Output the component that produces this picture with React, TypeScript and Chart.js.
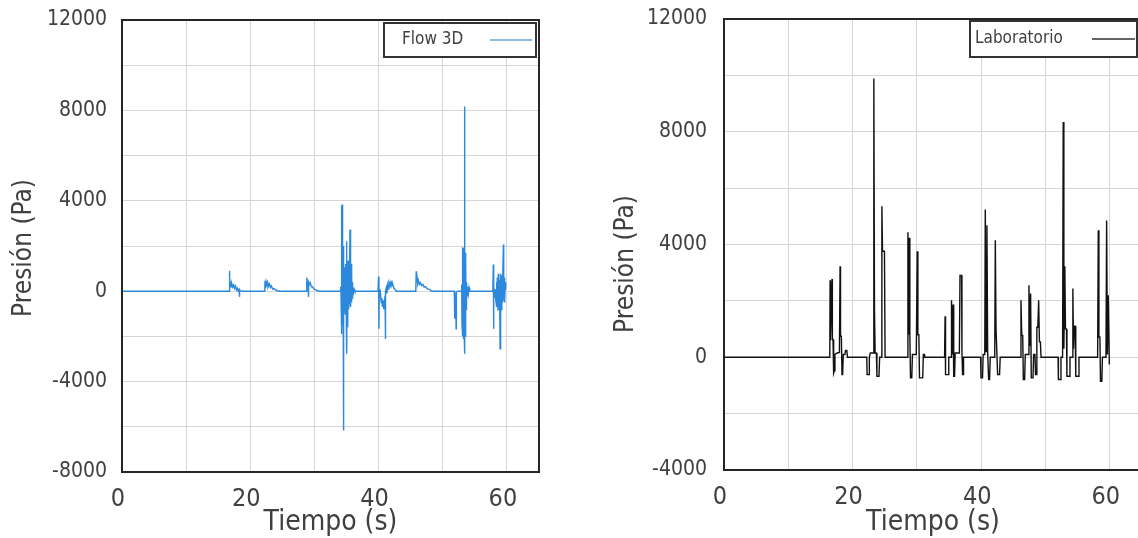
import React, { useEffect, useRef } from 'react';
import { Chart, registerables } from 'chart.js';

Chart.register(...registerables);

// ---------- data ----------
const flowTime = [
  0, 16.7, 16.75, 16.8, 16.9, 17.0, 17.1, 17.25, 17.4, 17.55, 17.7, 17.85, 18.0, 18.1, 18.25, 18.3, 18.35, 18.5, 18.65,
  22.25, 22.3, 22.35, 22.45, 22.6, 22.7, 22.85, 23.0, 23.15, 23.3, 23.5, 23.7, 24.0, 24.3, 24.6,
  28.75, 28.8, 28.85, 28.95, 29.0, 29.06, 29.1, 29.2, 29.35, 29.5, 29.7, 29.9, 30.2, 30.5, 30.85,
  34.05, 34.1, 34.15, 34.2, 34.22, 34.25, 34.28, 34.32, 34.35, 34.38, 34.42, 34.45, 34.5, 34.55, 34.58, 34.62, 34.66, 34.7, 34.74, 34.78,
  34.82, 34.86, 34.9, 34.94, 34.97, 35.0, 35.04, 35.07, 35.1, 35.14, 35.18, 35.22, 35.26, 35.3, 35.34, 35.38, 35.42, 35.46, 35.5, 35.54,
  35.57, 35.6, 35.63, 35.66, 35.69, 35.72, 35.75, 35.78, 35.81, 35.84, 35.87, 35.9, 35.95, 36.0, 36.1, 36.2, 36.3,
  39.9, 40.0, 40.05, 40.1, 40.2, 40.3, 40.4, 40.5, 40.6, 40.7, 40.8, 40.9, 41.0, 41.05, 41.1, 41.2, 41.3, 41.4, 41.5, 41.6, 41.7, 41.8, 41.9, 42.0, 42.1, 42.2, 42.35, 42.5, 42.75,
  45.8, 45.86, 45.9, 46.0, 46.1, 46.2, 46.35, 46.5, 46.7, 46.9, 47.1, 47.3, 47.6, 47.9, 48.2, 48.5,
  51.8, 51.85, 51.88, 51.92, 52.0, 52.05, 52.08, 52.12, 52.3, 52.9, 52.95, 53.0, 53.05, 53.1, 53.14, 53.18, 53.22, 53.26, 53.3, 53.34,
  53.38, 53.41, 53.45, 53.49, 53.53, 53.57, 53.6, 53.65, 53.7, 53.8, 53.9, 54.0, 54.1, 54.2,
  57.8, 57.88, 57.92, 57.96, 58.05, 58.15, 58.3, 58.35, 58.45, 58.5, 58.6, 58.65, 58.7, 58.75, 58.8, 58.85, 58.93, 58.97, 59.02, 59.07,
  59.12, 59.17, 59.22, 59.27, 59.32, 59.38, 59.45, 59.5, 59.55, 59.6, 59.65, 59.7, 59.75, 59.8, 59.87,
];
const flowPressure = [
  0, 0, 900, 150, 330, 200, 340, 180, 280, 120, 230, 60, 130, 20, 80, -250, 50, 30, 0,
  0, 457, 150, 420, 250, 400, 220, 320, 160, 230, 90, 120, 40, 20, 0,
  0, 600, 150, 450, 250, -250, 400, 300, 380, 200, 200, 100, 60, 20, 0,
  0, 200, -300, 1500, -1000, 3790, -1890, 3835, -1500, 3700, -1000, 2000, -1800, -6165, 470, -600, 1000, -900, 1060, -1000,
  900, -700, 1200, -400, 2210, -1200, 600, -2770, 800, -1500, 1300, -1590, 1360, -800, 1100, -700, 1360, -600, 1200, 2730,
  -700, 1300, -650, 1360, -700, 1200, -500, 1000, -400, 700, -300, 400, -150, 200, -50, 80, 0,
  0, 650, -1667, 100, -300, -150, -500, -300, -700, -400, -800, -500, -200, -2110, 0, 150, -100, 250, 100, 350, 250, 400, 300, 380, 250, 300, 150, 100, 0,
  0, 885, 400, 600, 350, 470, 300, 380, 250, 300, 180, 200, 100, 80, 20, 0,
  0, -200, -1224, -100, -300, -100, -1667, -50, 0, 0, 300, -1500, 1000, -2000, 1950, -1800, 1900, -2110, 1800, -1900,
  8170, -2770, 1950, -2000, 1700, -1600, 1200, -800, 400, -200, 200, -100, 150, 0,
  0, 1180, -1667, 200, -300, 100, -500, 400, -700, 600, -855, 770, -600, 700, -800, 500, -2550, 600, -700, 770,
  -600, 700, -855, 600, -500, 700, 2065, -400, 600, -500, 500, -300, 400, 100, 100,
];

const labTime = [
  0, 16.45, 16.5, 16.55, 16.8, 16.85, 16.95, 17.05, 17.15, 17.25, 17.6, 17.95, 18.05, 18.12, 18.25, 18.35, 18.45, 18.55, 18.8, 18.9, 19.1, 19.2,
  22.2, 22.25, 22.55, 22.6, 22.75, 23.2, 23.3, 23.4, 23.5, 23.7, 23.78, 24.1, 24.2, 24.5, 24.55, 24.65, 24.95, 25.05,
  28.5, 28.6, 28.7, 28.8, 28.9, 29.0, 29.2, 29.3, 29.9, 30.05, 30.15, 30.3, 30.4, 30.9, 31.0, 31.15, 31.2,
  34.3, 34.38, 34.45, 34.85, 34.95, 35.3, 35.38, 35.5, 35.62, 35.72, 35.85, 35.95, 36.6, 36.7, 36.95, 37.0, 37.1, 37.2, 37.25,
  39.9, 39.96, 40.2, 40.3, 40.55, 40.63, 40.75, 40.89, 41.0, 41.15, 41.3, 41.4, 42.1, 42.19, 42.3, 42.45, 42.55, 42.85, 42.95,
  46.1, 46.18, 46.3, 46.45, 46.55, 46.75, 46.85, 47.3, 47.42, 47.55, 47.68, 47.78, 48.05, 48.15, 48.35, 48.45, 48.6, 48.65, 48.8, 48.93, 49.05, 49.2, 49.3,
  51.95, 52.0, 52.3, 52.4, 52.65, 52.75, 52.85, 53.0, 53.1, 53.25, 53.33, 53.7, 53.8, 54.15, 54.25, 54.35, 54.45, 54.6, 54.7, 55.1, 55.2,
  58.1, 58.2, 58.3, 58.45, 58.55, 58.75, 58.85, 59.4, 59.5, 59.62, 59.75, 59.85, 59.92,
];
const labPressure = [
  0, 0, 2730, 600, 2780, 630, 630, -560, -480, 100, 150, 170, 3230, 745, 745, -615, -600, 100, 100, 240, 240, 0,
  0, -615, -615, 0, 150, 150, 9890, 1690, 150, 150, -674, -674, 0, 0, 5360, 3760, 3760, 0,
  0, 4436, 800, 4235, 800, -733, -733, 95, 95, 3760, 800, 800, -733, -733, 95, 95, 0,
  0, 1455, -615, -615, 0, 0, 2023, 100, 1870, -674, -674, 150, 150, 2900, 2900, 200, -615, -615, 0,
  0, -733, -733, 100, 100, 5240, 200, 4685, 200, -790, -790, 0, 0, 4150, 1005, 1005, -615, -615, 0,
  0, 2023, 770, 770, -790, -790, 100, 100, 2555, 400, 2260, -733, -733, 100, 100, -615, -615, 1065, 1065, 2023, 545, 545, 0,
  0, -790, -790, 0, 0, 8350, 300, 3230, 1005, 1005, -674, -674, 0, 0, 2437, 300, 1100, 1100, -674, -674, 0,
  0, 4507, 720, 720, -850, -850, 0, 0, 4850, 100, 2200, 2200, -260,
];

const xTickLabels = [0, 20, 40, 60];
const flowYTickLabels = [-8000, -4000, 0, 4000, 8000, 12000];
const labYTickLabels = [-4000, 0, 4000, 8000, 12000];

// ---------- styling ----------
const FONT = "'DejaVu Sans Condensed', 'DejaVu Sans', sans-serif";
const TEXT = '#404040';
const GRID = '#d6d6d6';

const framePlugin = {
  id: 'frame',
  afterDatasetsDraw(chart: any, _a: any, o: any) {
    const { ctx, chartArea: a } = chart;
    ctx.save();
    ctx.strokeStyle = o.color;
    ctx.lineWidth = o.width;
    ctx.strokeRect(a.left, a.top, a.right - a.left, a.bottom - a.top);
    ctx.restore();
  },
};

const boxLegendPlugin = {
  id: 'boxLegend',
  afterDraw(chart: any, _a: any, o: any) {
    const { ctx, chartArea: a } = chart;
    const ds = chart.data.datasets[0];
    const x = a.right - o.insetRight - o.width;
    const y = a.top + o.insetTop;
    const cy = y + o.height / 2;
    ctx.save();
    ctx.fillStyle = '#ffffff';
    ctx.fillRect(x, y, o.width, o.height);
    ctx.strokeStyle = o.borderColor;
    ctx.lineWidth = o.borderWidth;
    ctx.strokeRect(x, y, o.width, o.height);
    ctx.font = `${o.fontSize}px ${FONT}`;
    ctx.fillStyle = TEXT;
    ctx.textAlign = 'left';
    ctx.textBaseline = 'middle';
    ctx.fillText(ds.label, x + o.textX, cy);
    ctx.strokeStyle = o.sampleColor;
    ctx.lineWidth = o.sampleWidth;
    ctx.beginPath();
    ctx.moveTo(x + o.lineX1, cy);
    ctx.lineTo(x + o.lineX2, cy);
    ctx.stroke();
    ctx.restore();
  },
};

const yTitlePlugin = {
  id: 'yTitle',
  afterDraw(chart: any, _a: any, o: any) {
    const { ctx } = chart;
    ctx.save();
    ctx.translate(o.x, o.y);
    ctx.rotate(-Math.PI / 2);
    ctx.font = `${o.fontSize}px ${FONT}`;
    ctx.fillStyle = TEXT;
    ctx.textAlign = 'center';
    ctx.textBaseline = 'middle';
    ctx.fillText(o.text, 0, 0);
    ctx.restore();
  },
};

const clearScalePadding = (s: any) => {
  s.paddingTop = 0;
  s.paddingBottom = 0;
  s.paddingLeft = 0;
  s.paddingRight = 0;
};

type PanelProps = {
  left: number;
  width: number;
  label: string;
  times: number[];
  values: number[];
  color: string;
  lineWidth: number;
  yMin: number;
  yMax: number;
  yLabels: number[];
  padTop: number;
  padRight: number;
  yAxisWidth: number;
  xAxisHeight: number;
  yTickPad: number;
  yTitle: { x: number; y: number };
  legend: any;
};

function Panel(p: PanelProps) {
  const ref = useRef<HTMLCanvasElement | null>(null);
  useEffect(() => {
    if (!ref.current) return;
    const points = p.times.map((t, i) => ({ x: t, y: p.values[i] }));
    const chart = new Chart(ref.current, {
      type: 'scatter',
      data: {
        datasets: [
          {
            label: p.label,
            data: points,
            showLine: true,
            borderColor: p.color,
            backgroundColor: p.color,
            borderWidth: p.lineWidth,
            pointRadius: 0,
            pointHoverRadius: 0,
            tension: 0,
            fill: false,
          },
        ],
      },
      options: {
        animation: false,
        responsive: false,
        events: [],
        layout: { padding: { left: 0, top: p.padTop, right: p.padRight, bottom: 0 } },
        plugins: {
          legend: { display: false },
          tooltip: { enabled: false },
          frame: { color: '#262626', width: 2 },
          boxLegend: p.legend,
          yTitle: { text: 'Presión (Pa)', x: p.yTitle.x, y: p.yTitle.y, fontSize: 26 },
        } as any,
        scales: {
          x: {
            type: 'linear',
            min: 0,
            max: 65,
            afterFit: (s: any) => {
              s.height = p.xAxisHeight;
              clearScalePadding(s);
            },
            ticks: {
              stepSize: 10,
              includeBounds: false,
              autoSkip: false,
              maxRotation: 0,
              padding: 12,
              labelOffset: -4,
              color: TEXT,
              font: { family: FONT, size: 25 },
              callback: (v: any) => (xTickLabels.includes(Number(v)) ? String(v) : ''),
            },
            grid: { color: GRID, lineWidth: 1, drawTicks: false },
            border: { display: false },
            title: {
              display: true,
              text: 'Tiempo (s)',
              color: TEXT,
              font: { family: FONT, size: 28 },
              padding: { top: 0, bottom: -2 },
            },
          },
          y: {
            type: 'linear',
            min: p.yMin,
            max: p.yMax,
            afterFit: (s: any) => {
              s.width = p.yAxisWidth;
              clearScalePadding(s);
            },
            ticks: {
              stepSize: 2000,
              autoSkip: false,
              padding: p.yTickPad,
              color: TEXT,
              font: { family: FONT, size: 21 },
              callback: (v: any) => (p.yLabels.includes(Number(v)) ? String(v) : ''),
            },
            grid: { color: GRID, lineWidth: 1, drawTicks: false },
            border: { display: false },
          },
        },
      },
      plugins: [framePlugin, boxLegendPlugin, yTitlePlugin],
    });
    return () => chart.destroy();
  }, []);
  return (
    <canvas
      ref={ref}
      width={p.width}
      height={538}
      style={{ position: 'absolute', left: p.left, top: 0, width: p.width, height: 538 }}
    />
  );
}

export default function App() {
  return (
    <div
      style={{
        position: 'fixed',
        left: 0,
        top: 0,
        width: 1138,
        height: 538,
        overflow: 'hidden',
        background: '#ffffff',
      }}
    >
      <Panel
        left={0}
        width={570}
        label="Flow 3D"
        times={flowTime}
        values={flowPressure}
        color="#2b88dd"
        lineWidth={1.4}
        yMin={-8000}
        yMax={12000}
        yLabels={flowYTickLabels}
        padTop={20}
        padRight={31}
        yAxisWidth={122}
        xAxisHeight={66}
        yTickPad={15}
        yTitle={{ x: 24, y: 248 }}
        legend={{
          insetRight: 3,
          insetTop: 3,
          width: 152,
          height: 34,
          textX: 18,
          lineX1: 106,
          lineX2: 148,
          fontSize: 17,
          borderColor: '#333333',
          borderWidth: 2,
          sampleColor: '#8db8e2',
          sampleWidth: 2,
        }}
      />
      <Panel
        left={570}
        width={600}
        label="Laboratorio"
        times={labTime}
        values={labPressure}
        color="#111111"
        lineWidth={1.4}
        yMin={-4000}
        yMax={12000}
        yLabels={labYTickLabels}
        padTop={19}
        padRight={28}
        yAxisWidth={154}
        xAxisHeight={68}
        yTickPad={17}
        yTitle={{ x: 56, y: 264 }}
        legend={{
          insetRight: 5,
          insetTop: 2,
          width: 167,
          height: 36,
          textX: 5,
          lineX1: 122,
          lineX2: 165,
          fontSize: 17,
          borderColor: '#333333',
          borderWidth: 2,
          sampleColor: '#666666',
          sampleWidth: 2,
        }}
      />
    </div>
  );
}
